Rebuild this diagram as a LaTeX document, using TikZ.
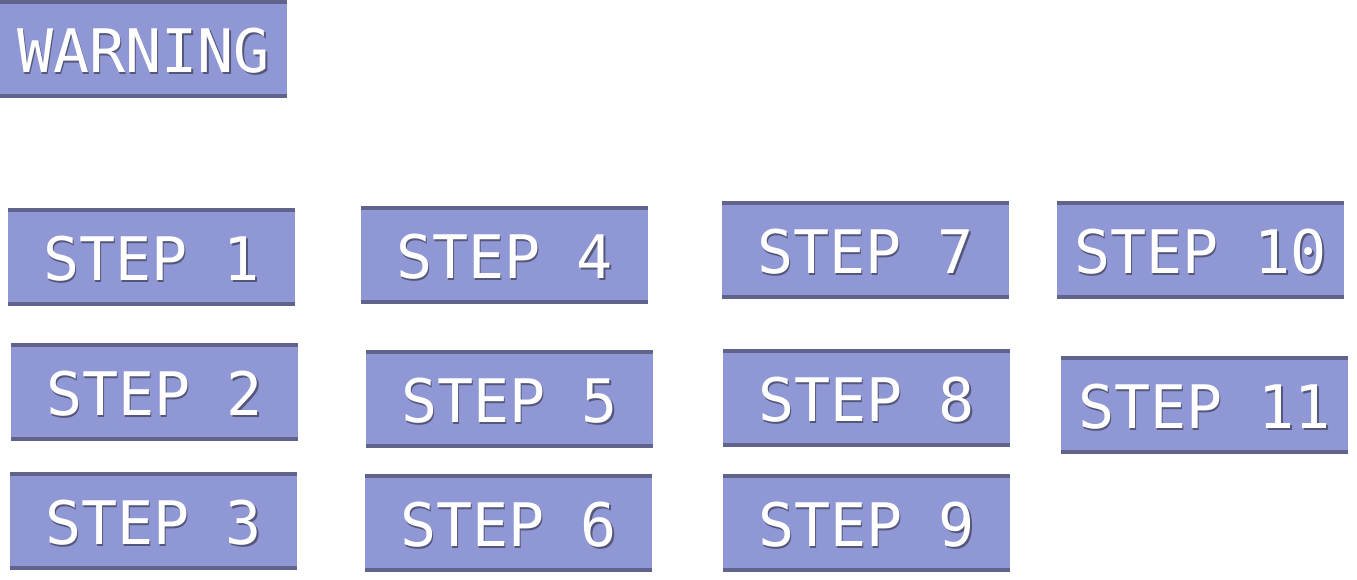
\documentclass[tikz,border=0pt]{standalone}
\usepackage{fontspec}
\newfontfamily\boxfont{DejaVu Sans Mono}
\usepackage{tikz}
\usetikzlibrary{positioning}
\definecolor{boxfill}{RGB}{143,152,212}
\definecolor{boxline}{RGB}{96,99,140}
\definecolor{textshade}{RGB}{84,86,122}
% white label with a small dark drop shadow
\newcommand{\shadetext}[1]{\raisebox{-2pt}[\height][\depth]{\makebox[0pt][l]{\raisebox{-1.1pt}{\kern1.1pt\textcolor{textshade}{#1}}}#1}}

\begin{document}
\begin{tikzpicture}[x=0.75pt,y=-0.75pt,
    stepbox/.style={fill=boxfill, inner sep=0pt, minimum width=215.25pt, minimum height=73.5pt,
        text=white, font=\boxfont\fontsize{45}{45}\selectfont,
        path picture={
            \fill[boxline] (path picture bounding box.north west) rectangle ([yshift=-3pt]path picture bounding box.north east);
            \fill[boxline] (path picture bounding box.south west) rectangle ([yshift=3pt]path picture bounding box.south east);
        }}]
    \useasboundingbox (0,0) rectangle (1357,580);

    % warning box
    \node[stepbox] (warn) at (143.5,49) {\shadetext{WARNING}};

    % first column
    \node[stepbox] (s1) at (151.5,257) {\shadetext{STEP 1}};
    \node[stepbox] (s2) at (154.5,392) {\shadetext{STEP 2}};
    \node[stepbox] (s3) at (153.5,521) {\shadetext{STEP 3}};

    % second column
    \node[stepbox] (s4) at (504.5,255) {\shadetext{STEP 4}};
    \node[stepbox] (s5) at (509.5,399) {\shadetext{STEP 5}};
    \node[stepbox] (s6) at (508.5,523) {\shadetext{STEP 6}};

    % third column
    \node[stepbox] (s7) at (865.5,250) {\shadetext{STEP 7}};
    \node[stepbox] (s8) at (866.5,398) {\shadetext{STEP 8}};
    \node[stepbox] (s9) at (866.5,523) {\shadetext{STEP 9}};

    % fourth column
    \node[stepbox] (s10) at (1200.5,250) {\shadetext{STEP 10}};
    \node[stepbox] (s11) at (1204.5,405) {\shadetext{STEP 11}};
\end{tikzpicture}
\end{document}
